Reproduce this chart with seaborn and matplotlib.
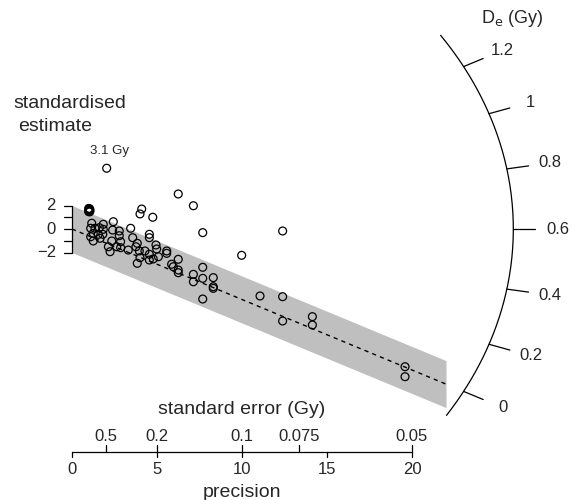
import numpy as np
import pandas as pd
import matplotlib
matplotlib.use("Agg")
import matplotlib.pyplot as plt
import seaborn as sns

# Data: precision (1/se) and standardised estimate
precision = [2.04, 0.98, 1.04, 1.00, 1.06, 0.98, 1.04, 1.01, 1.01,
             6.25, 7.14, 4.10, 4.00, 4.75, 7.69, 12.39, 9.98,
             2.43, 1.16, 1.84, 3.45, 1.10, 1.35, 1.61, 1.84, 2.39,
             1.25, 1.55, 1.81, 2.78, 2.78, 1.10, 1.65, 1.25, 2.34,
             2.86, 3.57, 3.84, 4.55, 4.55, 2.14, 2.24, 2.63, 2.86,
             3.31, 3.76, 3.96, 4.29, 4.94, 4.98, 4.55, 4.00, 3.84,
             4.55, 4.78, 5.08, 5.57, 5.57, 6.25, 5.86, 5.96, 6.25,
             6.25, 7.69, 7.14, 7.14, 7.69, 8.31, 8.31, 8.31, 7.69,
             11.06, 12.39, 12.39, 14.14, 14.14, 19.59, 19.59]
std_estimate = [5.17, 1.75, 1.72, 1.60, 1.58, 1.48, 1.46, 1.66, 1.52,
                2.98, 1.98, 1.70, 1.28, 1.00, -0.31, -0.17, -2.24,
                0.62, 0.49, 0.40, 0.06, 0.06, 0.06, 0.11, -0.03, -0.09,
                -0.37, -0.45, -0.45, -0.17, -0.57, -0.66, -0.79, -1.02, -1.02,
                -1.08, -0.74, -1.22, -0.45, -0.74, -1.51, -1.93, -1.51, -1.59,
                -1.79, -1.51, -1.87, -1.87, -1.36, -1.70, -2.15, -2.44, -2.92,
                -2.64, -2.55, -2.36, -1.87, -2.07, -2.58, -3.00, -3.21, -3.49,
                -3.72, -3.26, -3.86, -4.49, -4.20, -4.14, -4.91, -5.05, -5.96,
                -5.70, -5.76, -7.83, -7.46, -8.17, -11.72, -12.57]

de_ticks = [0, 0.2, 0.4, 0.6, 0.8, 1.0, 1.2]
de_labels = ["0", "0.2", "0.4", "0.6", "0.8", "1", "1.2"]
se_ticks = [0.5, 0.2, 0.1, 0.075, 0.05]
se_labels = ["0.5", "0.2", "0.1", "0.075", "0.05"]
prec_ticks = [0, 5, 10, 15, 20]
z_ticks = [-2, -1, 0, 1, 2]
z_labels = {-2: "\u22122", 0: "0", 2: "2"}

z0 = 0.6          # reference value (horizontal ray)
central_de = 0.0  # central value (dashed line)
arc_range = (-0.12, 1.36)

df = pd.DataFrame({"precision": precision, "z": std_estimate})
df["de"] = z0 + df["z"] / df["precision"]

sns.set_style("white")
plt.rcParams["font.family"] = ["Liberation Sans", "DejaVu Sans"]

fig = plt.figure(figsize=(5.72, 5.0), dpi=100)
ax = fig.add_axes([0, 0, 1, 1])
sx, sy = 17.0, 11.75          # pixels per unit
ox, oy = 72.0, 229.0          # origin in pixels from top-left
ax.set_xlim(-ox / sx, (572 - ox) / sx)
ax.set_ylim(-(500 - oy) / sy, oy / sy)
ax.axis("off")

# 2-sigma band and central line
band_end = 22.0
slope = central_de - z0
xb = np.array([0, band_end])
ax.fill_between(xb, slope * xb - 2, slope * xb + 2, color="#bfbfbf", lw=0, zorder=1)
ax.plot(xb, slope * xb, color="black", ls=(0, (3, 3)), lw=1.0, zorder=2)

# points
sns.scatterplot(data=df, x="precision", y="z", ax=ax, s=32, marker="o",
                facecolor="none", edgecolor="black", linewidth=0.9, zorder=3)
top = df.loc[df["de"].idxmax()]
ax.annotate(f"{top['de']:.1f} Gy", (top["precision"], top["z"]), xytext=(2, 8),
            textcoords="offset points", ha="center", va="bottom", fontsize=9.5)

# arc (De scale)
R, K2 = 25.96, 0.75
s = np.linspace(arc_range[0] - z0, arc_range[1] - z0, 200)
xa = R / np.sqrt(1 + K2 * s ** 2)
ax.plot(xa, s * xa, color="black", lw=0.9)
for d, lab in zip(de_ticks, de_labels):
    t = d - z0
    x = R / np.sqrt(1 + K2 * t ** 2)
    y = t * x
    ax.plot([x, 1.05 * x], [y, 1.05 * y], color="black", lw=0.9)
    ax.text(1.1 * x, 1.1 * y, lab, ha="center", va="center", fontsize=12)
ax.text((512 - ox) / sx, (oy - 18) / sy, r"D$_\mathrm{e}$ (Gy)", ha="center",
        va="center", fontsize=13)

# y axis (standardised estimate)
ax.plot([0, 0], [-2, 2], color="black", lw=0.9)
for z in z_ticks:
    ax.plot([-0.47, 0], [z, z], color="black", lw=0.9)
    if z in z_labels:
        ax.text(-0.95, z, z_labels[z], ha="right", va="center", fontsize=12)
ax.text(13 / sx - ox / sx, (oy - 103) / sy, "standardised", ha="left",
        va="center", fontsize=14)
ax.text(18 / sx - ox / sx, (oy - 126) / sy, "estimate", ha="left",
        va="center", fontsize=14)

# precision / standard error axis
ya = (oy - 452) / sy
ax.plot([0, 20], [ya, ya], color="black", lw=0.9)
for p in prec_ticks:
    ax.plot([p, p], [ya, ya - 5 / sy], color="black", lw=0.9)
    ax.text(p, ya - 17 / sy, str(p), ha="center", va="center", fontsize=12)
for se, lab in zip(se_ticks, se_labels):
    ax.plot([1 / se, 1 / se], [ya, ya + 7 / sy], color="black", lw=0.9)
    ax.text(1 / se, ya + 16 / sy, lab, ha="center", va="center", fontsize=12)
ax.text(10, ya - 40 / sy, "precision", ha="center", va="center", fontsize=14)
ax.text(10, ya + 43 / sy, "standard error (Gy)", ha="center", va="center", fontsize=14)

fig.savefig("out.png", dpi=100)
